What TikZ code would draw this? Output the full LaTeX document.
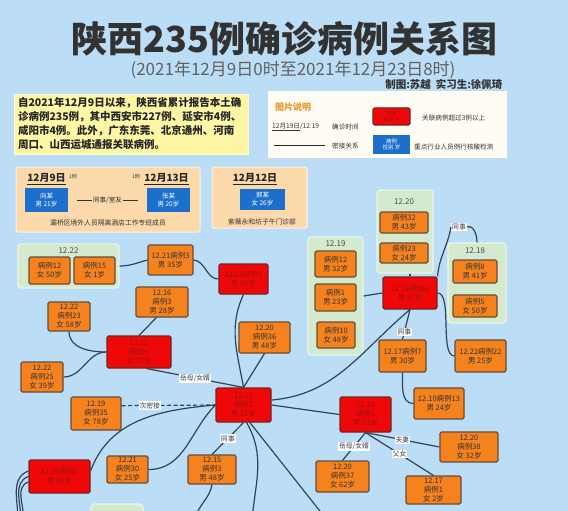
\documentclass[tikz,border=0pt]{standalone}
\usepackage{fontspec}
\setmainfont{Noto Sans CJK SC}
\usetikzlibrary{positioning}
\definecolor{bgblue}{RGB}{188,221,246}
\definecolor{caseor}{RGB}{246,130,30}
\definecolor{caseedge}{RGB}{100,78,60}
\definecolor{hotred}{RGB}{240,8,8}
\definecolor{hotedge}{RGB}{120,35,35}
\definecolor{hottext}{RGB}{150,20,20}
\definecolor{grpgreen}{RGB}{212,234,207}
\definecolor{grpedge}{RGB}{235,245,232}
\definecolor{keyblue}{RGB}{28,112,204}
\definecolor{peach}{RGB}{252,217,170}
\definecolor{notey}{RGB}{253,246,165}
\definecolor{cream}{RGB}{255,252,243}
\definecolor{linkc}{RGB}{45,68,92}
\definecolor{titlec}{RGB}{50,50,50}
\definecolor{legor}{RGB}{238,150,45}

\tikzset{
  case/.style={draw=caseedge,line width=1.1pt,fill=caseor,rounded corners=1.5pt,align=center,
    inner sep=0pt,text=black!80,font=\fontsize{7.5}{9}\selectfont},
  hot/.style={case,fill=hotred,draw=hotedge,text=hottext},
  grp/.style={fill=grpgreen,draw=grpedge,line width=1.2pt,rounded corners=3pt},
  grplbl/.style={text=black!70,font=\fontsize{8}{9}\selectfont,inner sep=0pt},
  key/.style={fill=keyblue,text=white,align=center,inner sep=0pt,font=\fontsize{6.5}{8}\selectfont},
  datebox/.style={fill=peach,draw=white!70!peach,line width=1pt,rounded corners=2pt},
  dtitle/.style={text=black!85,font=\bfseries\fontsize{10}{11}\selectfont,inner sep=0pt},
  small/.style={text=black!80,font=\fontsize{6.6}{7.5}\selectfont,inner sep=0pt},
  link/.style={draw=linkc,line width=1.2pt},
  tag/.style={fill=white!92!bgblue,text=black!75,font=\fontsize{6.8}{7.5}\selectfont,inner sep=1pt}
}

\begin{document}
\begin{tikzpicture}[x=1pt,y=-1pt]
\useasboundingbox (0,0) rectangle (568,511);
\clip (0,0) rectangle (568,511);
\fill[bgblue] (0,0) rectangle (568,511);

\node[text=titlec,font=\bfseries\fontsize{36}{40}\selectfont] (title) at (284.5,39) {陕西235例确诊病例关系图};
\node[text=black!62,font=\fontsize{17}{19}\selectfont] (subtitle) at (293,70) {(2021年12月9日0时至2021年12月23日8时)};
\node[text=titlec,anchor=east,font=\bfseries\fontsize{10.5}{12}\selectfont] (credit) at (506,84) {制图:苏越\ \ 实习生:徐佩琦};

\node[fill=notey,draw=white!60!notey,minimum width=234pt,minimum height=60pt,text width=226pt,align=left,
  inner sep=3pt,text=black!85,font=\bfseries\fontsize{10.5}{14}\selectfont] (info) at (131,124)
  {自2021年12月9日以来，陕西省累计报告本土确\\诊病例235例，其中西安市227例、延安市4例、\\咸阳市4例。此外，广东东莞、北京通州、河南\\周口、山西运城通报关联病例。};

\node[fill=cream,minimum width=239pt,minimum height=67pt] (legend) at (387.5,124.5) {};
\node[anchor=west,text=legor,inner sep=0pt,font=\bfseries\fontsize{9}{10}\selectfont] (legtitle) at (275,107) {图片说明};
\node[small,anchor=west] (legdate) at (272,127) {\underline{12月19日}/12.19};
\node[small,anchor=west] (legdatet) at (332,127) {确诊时间};
\coordinate (lega) at (274,145);
\coordinate (legb) at (325,145);
\draw[line width=1pt,black!85] (lega) -- (legb);
\node[small,anchor=west] (leglinet) at (332,146) {密接关系};
\node[hot,minimum width=37pt,minimum height=17pt,font=\fontsize{5}{6}\selectfont] (leghot) at (391.5,116.5) {病例\\性别 岁};
\node[small,anchor=west] (leghott) at (422,118) {关联病例超过3例以上};
\node[key,minimum width=37pt,minimum height=19pt,font=\fontsize{5.5}{6.5}\selectfont] (legkey) at (391.5,144.5) {病例\\性别 岁};
\node[small,anchor=west] (legkeyt) at (414,147) {重点行业人员例行核酸检测};

\node[datebox,minimum width=184pt,minimum height=65pt] (d1) at (108,199.5) {};
\node[datebox,minimum width=95pt,minimum height=61pt] (d2) at (259.5,197.5) {};
\node[dtitle] (d1a) at (46.5,179) {\underline{12月9日}};
\node[small,anchor=west,font=\fontsize{5}{6}\selectfont] (d1an) at (69,177) {1例};
\node[small,anchor=east,font=\fontsize{5}{6}\selectfont] (d1bn) at (140,177) {1例};
\node[dtitle] (d1b) at (166.5,179) {\underline{12月13日}};
\node[key,minimum width=43pt,minimum height=24pt] (b1) at (46.5,200) {向某\\男 21岁};
\node[key,minimum width=43pt,minimum height=24pt] (b2) at (168.5,200) {张某\\男 20岁};
\draw[line width=0.9pt,black!80,shorten <=9pt,shorten >=9pt] (b1.east) -- node[small,fill=peach,inner sep=1.5pt] (b12) {同事/室友} (b2.west);
\node[small,font=\fontsize{6.8}{7.5}\selectfont] (d1f) at (108,223) {灞桥区境外人员隔离酒店工作专班成员};
\node[dtitle] (d2a) at (255,179) {\underline{12月12日}};
\node[key,minimum width=45pt,minimum height=21pt] (b3) at (262.5,199.5) {郭某\\女 26岁};
\node[small,font=\fontsize{6.8}{7.5}\selectfont] (d2f) at (262,222) {紫薇永和坊子午门诊部};

\node[grp,minimum width=101pt,minimum height=44pt] (g22) at (68.5,266) {};
\node[grplbl] (g22t) at (68.5,251) {12.22};
\node[grp,minimum width=55pt,minimum height=118pt] (g19) at (335.5,296) {};
\node[grplbl] (g19t) at (335.5,244) {12.19};
\node[grp,minimum width=56pt,minimum height=83pt] (g20) at (405,231.5) {};
\node[grplbl] (g20t) at (404,202) {12.20};
\node[grp,minimum width=58pt,minimum height=80pt] (g18) at (477,283) {};
\node[grplbl] (g18t) at (475,251) {12.18};
\node[grp,minimum width=52pt,minimum height=30pt] (gbot) at (117,519) {};

\node[case,minimum width=41pt,minimum height=27pt] (c12a) at (49.5,270.5) {病例12\\女 50岁};
\node[case,minimum width=41pt,minimum height=27pt] (c15) at (94.5,270.5) {病例15\\女 1岁};
\node[case,minimum width=41pt,minimum height=26pt] (c12b) at (335.5,264) {病例12\\男 32岁};
\node[case,minimum width=41pt,minimum height=27pt] (c1a) at (335.5,297.5) {病例1\\男 23岁};
\node[case,minimum width=38pt,minimum height=26pt] (c10) at (336,335) {病例10\\女 48岁};
\node[case,minimum width=48pt,minimum height=21pt] (c32) at (404,222.5) {病例32\\男 43岁};
\node[case,minimum width=48pt,minimum height=20pt] (c23b) at (404,253) {病例23\\女 24岁};
\node[case,minimum width=44pt,minimum height=23pt] (c8) at (475,271.5) {病例8\\男 41岁};
\node[case,minimum width=44pt,minimum height=22pt] (c5) at (475,306) {病例5\\女 50岁};

\node[case,minimum width=45pt,minimum height=30pt] (c3a) at (170.5,260) {12.21病例3\\男 35岁};
\node[case,minimum width=52pt,minimum height=30pt] (c3b) at (162,302) {12.16\\病例3\\男 28岁};
\node[case,minimum width=42pt,minimum height=29pt] (c23a) at (69,316.5) {12.22\\病例23\\女 58岁};
\node[case,minimum width=42pt,minimum height=30pt] (c25) at (42,377) {12.22\\病例25\\女 39岁};
\node[case,minimum width=51pt,minimum height=31pt] (c36) at (264.5,337.5) {12.20\\病例36\\男 48岁};
\node[case,minimum width=50pt,minimum height=33pt] (c35) at (96,413.5) {12.19\\病例35\\女 78岁};
\node[case,minimum width=41pt,minimum height=27pt] (c30) at (127.5,469.5) {12.21\\病例30\\女 25岁};
\node[case,minimum width=48pt,minimum height=29pt] (c3c) at (212,469.5) {12.15\\病例3\\男 48岁};
\node[case,minimum width=53pt,minimum height=31pt] (c37) at (342.5,476.5) {12.20\\病例37\\女 62岁};
\node[case,minimum width=58pt,minimum height=30pt] (c38) at (469,447) {12.20\\病例38\\女 32岁};
\node[case,minimum width=55pt,minimum height=28pt] (c1b) at (433.5,490) {12.17\\病例1\\女 2岁};
\node[case,minimum width=50pt,minimum height=31pt] (c13) at (439,403.5) {12.10病例13\\男 24岁};
\node[case,minimum width=47pt,minimum height=32pt] (c7) at (402.5,356) {12.17病例7\\男 30岁};
\node[case,minimum width=51pt,minimum height=32pt] (c22) at (480.5,356) {12.22病例22\\男 25岁};

\node[hot,minimum width=64pt,minimum height=32pt] (r6) at (139,352) {12.15\\病例6\\女 77岁};
\node[hot,minimum width=49pt,minimum height=30pt] (r1a) at (243.5,279) {12.21病例1\\男 35岁};
\node[hot,minimum width=55pt,minimum height=34pt] (r2) at (243.5,405) {12.12\\病例2\\男 51岁};
\node[hot,minimum width=54pt,minimum height=32pt] (r4) at (410,293) {12.16病例4\\男 47岁};
\node[hot,minimum width=51pt,minimum height=35pt] (r1b) at (365.5,414.5) {12.16\\病例1\\男 31岁};
\node[hot,minimum width=61pt,minimum height=33pt] (r2b) at (59.5,476.5) {12.16病例2\\男 62岁};

\coordinate (o1) at (195,520);
\coordinate (o2) at (252,520);
\coordinate (o3) at (327,520);
\coordinate (o4) at (21,520);
\coordinate (o5) at (24,520);
\coordinate (o6) at (18,520);

\draw[link] (g22.east) to[out=0,in=195] (c3a.west);
\draw[link] (c3a.east) to[out=-5,in=180] (r1a.west);
\draw[link] (c3b.-110) -- (r6.north);
\draw[link] (c23a.south) to[out=-90,in=180] (r6.west);
\draw[link] (c25.east) to[out=0,in=180] (r6.west);
\draw[link] (r6.-65) -- node[tag] (t1) {岳母/女婿} (r2.north);
\draw[link] (r1a.south) to[out=-115,in=100] (r2.north);
\draw[link] (c36.south) -- (r2.north);
\draw[link,dashed,dash pattern=on 4pt off 2.5pt] (c35.17) -- node[tag,pos=0.3] (t2) {次密接} (r2.west);
\draw[link] (r2.west) to[out=185,in=70] (r2b.10);
\draw[link] (r2.west) to[out=-135,in=0] (c30.east);
\draw[link] (r2.south) -- node[tag] (t3) {同事} (c3c.north);
\draw[link] (c3c.south) to[out=-100,in=80] (o1);
\draw[link] (r2.-80) to[out=-60,in=85] (o2);
\draw[link] (r2.-70) -- (o3);
\draw[link] (r2.east) -- (r1b.west);
\draw[link] (r2.10) to[out=5,in=-140] (r4.south);
\draw[link] (r1b.south) -- node[tag] (t4) {岳母/女婿} (c37.north);
\draw[link] (r1b.south) -- node[tag] (t5) {夫妻} (c38.west);
\draw[link] (r1b.south) -- node[tag] (t6) {父女} (c1b.north);
\draw[link] (r4.west) -- (g19.east);
\draw[link] (r4.north) -- (r4.north |- g20.south);
\node[tag] (t7) at (459,227) {同事};
\draw[link] (r4.north east) to[out=85,in=-100] (t7.west);
\draw[link] (t7.east) to[out=20,in=90] (g18.north);
\draw[link] (r4.east) to[out=0,in=180,looseness=0.6] (c22.west);
\draw[link] (r4.south) -- node[tag,pos=0.75] (t8) {同事} (c7.north);
\draw[link] (c7.south) to[out=-90,in=180] (c13.west);
\draw[link] (r2b.west) to[out=200,in=90] (o4);
\draw[link] (r2b.190) to[out=200,in=90] (o5);
\draw[link] (r2b.170) to[out=200,in=90] (o6);
\end{tikzpicture}
\end{document}
